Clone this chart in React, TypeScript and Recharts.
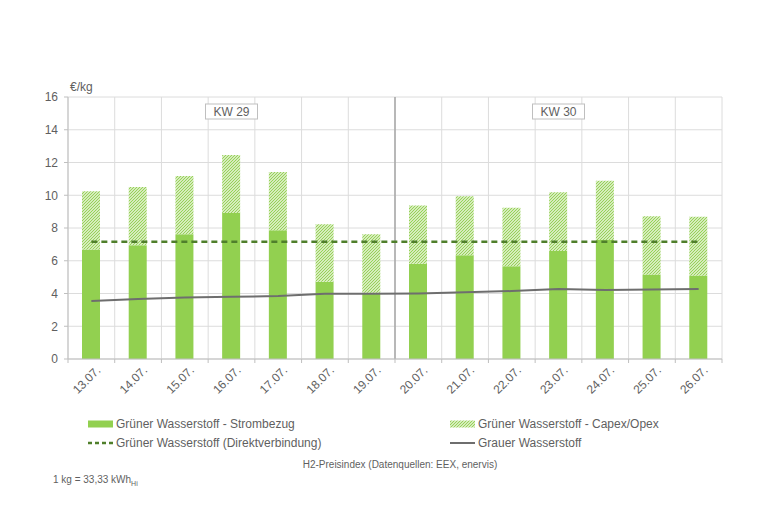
import { Bar, CartesianGrid, ComposedChart, Line, ReferenceArea, XAxis, YAxis } from 'recharts';

// Kalendertage (x-Achse)
const days = [
  '13.07.', '14.07.', '15.07.', '16.07.', '17.07.', '18.07.', '19.07.',
  '20.07.', '21.07.', '22.07.', '23.07.', '24.07.', '25.07.', '26.07.',
];

// €/kg
const strombezug = [6.69, 6.95, 7.62, 8.92, 7.87, 4.72, 4.05, 5.81, 6.34, 5.67, 6.59, 7.26, 5.16, 5.1];
const capexOpex = [3.56, 3.56, 3.56, 3.54, 3.55, 3.51, 3.57, 3.56, 3.6, 3.56, 3.59, 3.62, 3.56, 3.58];
const direktverbindung = [7.16, 7.16, 7.16, 7.16, 7.16, 7.16, 7.16, 7.16, 7.16, 7.16, 7.16, 7.16, 7.16, 7.16];
const grauerWasserstoff = [3.54, 3.66, 3.76, 3.8, 3.84, 3.98, 3.98, 4.0, 4.07, 4.15, 4.27, 4.21, 4.25, 4.27];

const yTicks = [0, 2, 4, 6, 8, 10, 12, 14, 16];

const weekLabels = ['KW 29', 'KW 30'];
const weekStart = ['13.07.', '20.07.'];
const weekEnd = ['19.07.', '26.07.'];

const GREEN = '#92d050';
const DARK_GREEN = '#4f7f2b';
const GREY_LINE = '#6e6e6e';
const TEXT = '#5f5f5f';
const GRID = '#dcdcdc';
const AXIS = '#bfbfbf';

const data = days.map((day, i) => ({
  day,
  strombezug: strombezug[i],
  capexOpex: capexOpex[i],
  direktverbindung: direktverbindung[i],
  grauerWasserstoff: grauerWasserstoff[i],
}));

function DayTick(props: any) {
  const { x, y, payload, index } = props;
  const half = payload?.offset ?? 0;
  const axisY = y - 6;
  const tx = x + 10;
  const ty = y + 6;
  return (
    <g>
      <line x1={x - half} x2={x - half} y1={axisY} y2={axisY + 4} stroke={AXIS} />
      {index === days.length - 1 && (
        <line x1={x + half} x2={x + half} y1={axisY} y2={axisY + 4} stroke={AXIS} />
      )}
      <text x={tx} y={ty} transform={`rotate(-45, ${tx}, ${ty})`} textAnchor="end" fontSize={12} fill={TEXT}>
        {payload.value}
      </text>
    </g>
  );
}

function weekBox(label: string) {
  return (props: any) => {
    const vb = props.viewBox;
    if (!vb) return null;
    const cx = vb.x + vb.width / 2;
    return (
      <g>
        <rect x={cx - 26} y={vb.y + 7} width={52} height={15} fill="#fff" stroke={AXIS} />
        <text x={cx} y={vb.y + 19} textAnchor="middle" fontSize={12} fill={TEXT}>
          {label}
        </text>
      </g>
    );
  };
}

const bandEdges = ({ offset }: any) =>
  days.map((_, i) => offset.left + (i * offset.width) / days.length).concat(offset.left + offset.width);

const weekDivider = ({ offset }: any) => [offset.left + (7 * offset.width) / days.length];

function LegendIcon({ kind }: { kind: string }) {
  return (
    <svg width={25} height={10} style={{ marginRight: 3, flex: 'none' }}>
      {kind === 'bar' && <rect x={0} y={1.5} width={25} height={7} fill={GREEN} />}
      {kind === 'hatch' && <rect x={0} y={1.5} width={25} height={7} fill="url(#hatchGreen)" />}
      {kind === 'dash' && (
        <line x1={0} x2={25} y1={5} y2={5} stroke={DARK_GREEN} strokeWidth={2.5} strokeDasharray="4 3" />
      )}
      {kind === 'line' && <line x1={0} x2={25} y1={5} y2={5} stroke={GREY_LINE} strokeWidth={2} />}
    </svg>
  );
}

const legendItems = [
  { kind: 'bar', name: 'Grüner Wasserstoff - Strombezug', left: 88, top: 416 },
  { kind: 'hatch', name: 'Grüner Wasserstoff - Capex/Opex', left: 450, top: 416 },
  { kind: 'dash', name: 'Grüner Wasserstoff (Direktverbindung)', left: 88, top: 435 },
  { kind: 'line', name: 'Grauer Wasserstoff', left: 450, top: 435 },
];

export default function App() {
  return (
    <div
      style={{
        position: 'absolute',
        left: 0,
        top: 0,
        width: 760,
        height: 525,
        background: '#fff',
        fontFamily: '"Liberation Sans", Arial, sans-serif',
        color: TEXT,
      }}
    >
      <ComposedChart
        width={760}
        height={525}
        data={data}
        margin={{ top: 97, right: 38, bottom: 126, left: 8 }}
      >
        <defs>
          <pattern id="hatchGreen" patternUnits="userSpaceOnUse" width={3} height={3}>
            <rect width={3} height={3} fill="#f1f8e8" />
            <path d="M-1,1 l2,-2 M0,3 l3,-3 M2,4 l2,-2" stroke={GREEN} strokeWidth={1.1} />
          </pattern>
        </defs>
        <CartesianGrid stroke={GRID} verticalCoordinatesGenerator={bandEdges} />
        <CartesianGrid stroke="#a6a6a6" strokeWidth={1.5} horizontal={false} verticalCoordinatesGenerator={weekDivider} />
        <XAxis
          dataKey="day"
          interval={0}
          height={40}
          tickSize={4}
          tickMargin={2}
          tickLine={false}
          stroke={AXIS}
          tick={<DayTick />}
        />
        <YAxis
          width={60}
          domain={[0, 16]}
          ticks={yTicks}
          tickSize={4}
          tickMargin={6}
          stroke={AXIS}
          tick={{ fontSize: 12, fill: TEXT }}
        />
        {weekLabels.map((label, i) => (
          <ReferenceArea
            key={label}
            x1={weekStart[i]}
            x2={weekEnd[i]}
            fill="none"
            stroke="none"
            label={weekBox(label)}
          />
        ))}
        <Bar dataKey="strombezug" stackId="h2" fill={GREEN} barSize={18} isAnimationActive={false} />
        <Bar dataKey="capexOpex" stackId="h2" fill="url(#hatchGreen)" barSize={18} isAnimationActive={false} />
        <Line
          dataKey="direktverbindung"
          type="linear"
          stroke={DARK_GREEN}
          strokeWidth={2.5}
          strokeDasharray="6 4"
          dot={false}
          isAnimationActive={false}
        />
        <Line
          dataKey="grauerWasserstoff"
          type="linear"
          stroke={GREY_LINE}
          strokeWidth={2}
          dot={false}
          isAnimationActive={false}
        />
      </ComposedChart>

      <div style={{ position: 'absolute', left: 70, top: 80, fontSize: 12 }}>€/kg</div>

      {legendItems.map((item) => (
        <div
          key={item.name}
          style={{
            position: 'absolute',
            left: item.left,
            top: item.top,
            display: 'flex',
            alignItems: 'center',
            fontSize: 12,
            lineHeight: '16px',
            whiteSpace: 'nowrap',
          }}
        >
          <LegendIcon kind={item.kind} />
          {item.name}
        </div>
      ))}

      <div style={{ position: 'absolute', left: 0, width: 800, top: 459, textAlign: 'center', fontSize: 10 }}>
        H2-Preisindex (Datenquellen: EEX, enervis)
      </div>
      <div style={{ position: 'absolute', left: 53, top: 474, fontSize: 10 }}>
        1 kg = 33,33 kWh<sub style={{ fontSize: 7 }}>Hi</sub>
      </div>
    </div>
  );
}
